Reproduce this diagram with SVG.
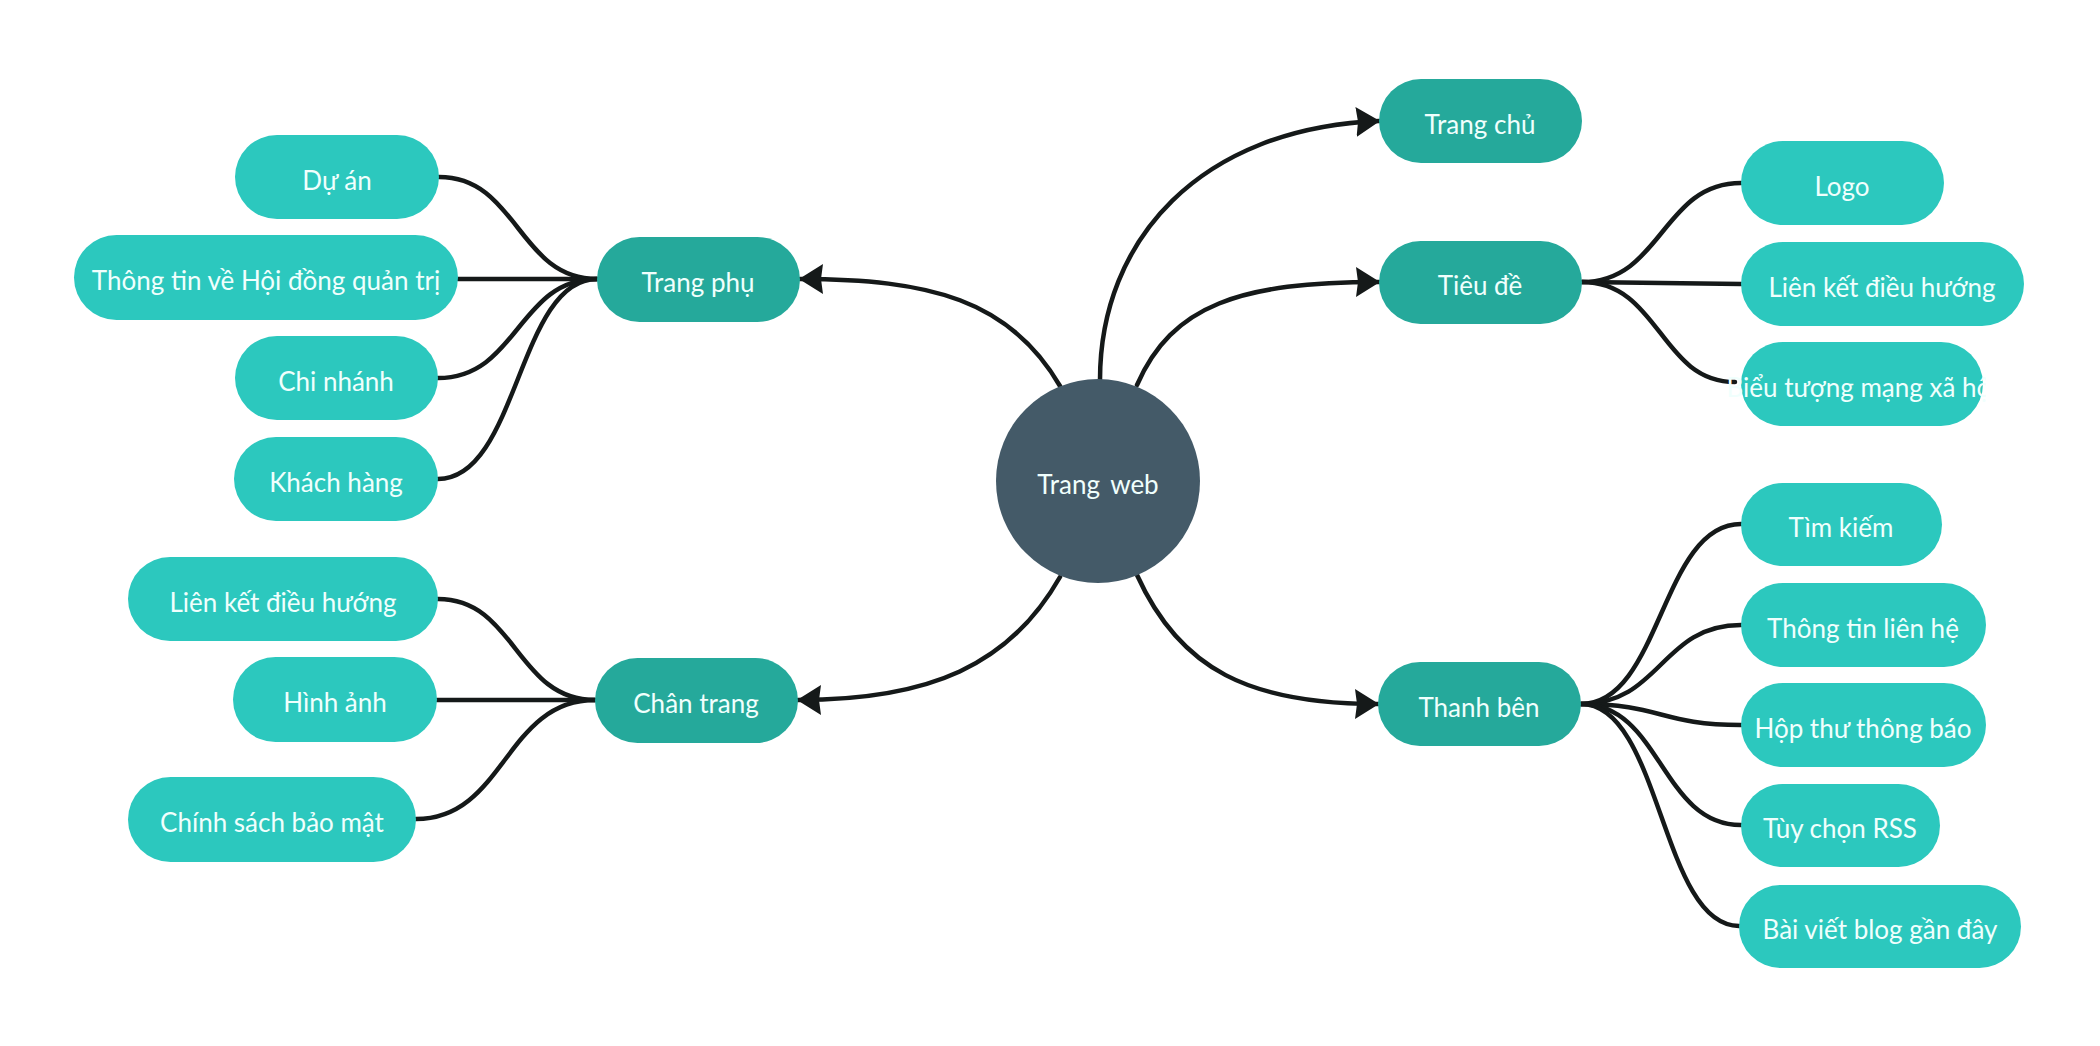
<svg xmlns="http://www.w3.org/2000/svg" width="2100" height="1046" viewBox="0 0 2100 1046">
<style>
.bg{fill:#ffffff}
.l1{fill:#25A99B}
.l2{fill:#2CC8BE}
.root{fill:#445A68}
.t{font-family:Lato,"Noto Sans",sans-serif;font-size:26px;fill:#F0FFFD;text-anchor:middle}
.c{fill:none;stroke:#151919;stroke-width:4.5;stroke-linecap:round}
</style>
<defs>
<marker id="arr" viewBox="0 0 24 30" refX="23" refY="15" markerWidth="24" markerHeight="30" markerUnits="userSpaceOnUse" orient="auto">
<path d="M0,0 L24,15 L0,30 L2,15 Z" fill="#151919"/>
</marker>
<clipPath id="clipBieu"><rect x="1720" y="342" width="266" height="84"/></clipPath>
</defs>
<rect class="bg" x="0" y="0" width="2100" height="1046"/>
<g id="connectors">
<path class="c" d="M1100,380 C1100,240 1200,128 1379,121" marker-end="url(#arr)"/>
<path class="c" d="M1137,385 C1172,305 1240,282 1379,282" marker-end="url(#arr)"/>
<path class="c" d="M1060,386 C1010,300 930,279 800,279" marker-end="url(#arr)"/>
<path class="c" d="M1060,577 C1010,665 930,700 798,700" marker-end="url(#arr)"/>
<path class="c" d="M1137,575 C1180,670 1250,704 1378,704" marker-end="url(#arr)"/>
<path class="c" d="M597,279 C518,279 518,177 439,177"/>
<path class="c" d="M597,279 L458,279"/>
<path class="c" d="M597,279 C518,279 518,378 438,378"/>
<path class="c" d="M597,279 C518,279 518,479 438,479"/>
<path class="c" d="M595,700 C516,700 516,599 438,599"/>
<path class="c" d="M595,700 L437,700"/>
<path class="c" d="M595,700 C505,700 505,819 416,819"/>
<path class="c" d="M1582,282 C1662,282 1662,183 1741,183"/>
<path class="c" d="M1582,282 L1741,284"/>
<path class="c" d="M1582,282 C1660,282 1660,382 1735,382"/>
<path class="c" d="M1581,704 C1661,704 1661,524 1741,524"/>
<path class="c" d="M1581,704 C1661,704 1661,625 1741,625"/>
<path class="c" d="M1581,704 C1661,704 1661,725 1741,725"/>
<path class="c" d="M1581,704 C1661,704 1661,825 1741,825"/>
<path class="c" d="M1581,704 C1661,704 1661,926 1739,926"/>
</g>
<g id="root">
<circle class="root" cx="1098" cy="481" r="102"/>
<text class="t" x="1098" y="494" word-spacing="4">Trang web</text>
</g>
<g id="trang-chu">
<rect class="l1" x="1379" y="79" width="203" height="84" rx="42"/>
<text class="t" x="1480" y="134">Trang chủ</text>
</g>
<g id="tieu-de">
<rect class="l1" x="1379" y="241" width="203" height="83" rx="41.5"/>
<text class="t" x="1480" y="295">Tiêu đề</text>
</g>
<g id="trang-phu">
<rect class="l1" x="597" y="237" width="203" height="85" rx="42.5"/>
<text class="t" x="698" y="292">Trang phụ</text>
</g>
<g id="chan-trang">
<rect class="l1" x="595" y="658" width="203" height="85" rx="42.5"/>
<text class="t" x="696" y="713">Chân trang</text>
</g>
<g id="thanh-ben">
<rect class="l1" x="1378" y="662" width="203" height="84" rx="42"/>
<text class="t" x="1479" y="717">Thanh bên</text>
</g>
<g id="du-an">
<rect class="l2" x="235" y="135" width="204" height="84" rx="42"/>
<text class="t" x="337" y="190">Dự án</text>
</g>
<g id="hoi-dong">
<rect class="l2" x="74" y="235" width="384" height="85" rx="42.5"/>
<text class="t" x="266" y="290">Thông tin về Hội đồng quản trị</text>
</g>
<g id="chi-nhanh">
<rect class="l2" x="235" y="336" width="203" height="84" rx="42"/>
<text class="t" x="336" y="391">Chi nhánh</text>
</g>
<g id="khach-hang">
<rect class="l2" x="234" y="437" width="204" height="84" rx="42"/>
<text class="t" x="336" y="492">Khách hàng</text>
</g>
<g id="lien-ket-trai">
<rect class="l2" x="128" y="557" width="310" height="84" rx="42"/>
<text class="t" x="283" y="612">Liên kết điều hướng</text>
</g>
<g id="hinh-anh">
<rect class="l2" x="233" y="657" width="204" height="85" rx="42.5"/>
<text class="t" x="335" y="712">Hình ảnh</text>
</g>
<g id="chinh-sach">
<rect class="l2" x="128" y="777" width="288" height="85" rx="42.5"/>
<text class="t" x="272" y="832">Chính sách bảo mật</text>
</g>
<g id="logo">
<rect class="l2" x="1741" y="141" width="203" height="84" rx="42"/>
<text class="t" x="1842" y="196">Logo</text>
</g>
<g id="lien-ket-phai">
<rect class="l2" x="1741" y="242" width="283" height="84" rx="42"/>
<text class="t" x="1882" y="297">Liên kết điều hướng</text>
</g>
<g id="bieu-tuong">
<rect class="l2" x="1741" y="342" width="242" height="84" rx="42"/>
<text class="t" x="1862" y="397" clip-path="url(#clipBieu)">Biểu tượng mạng xã hội</text>
</g>
<g id="tim-kiem">
<rect class="l2" x="1741" y="483" width="201" height="83" rx="41.5"/>
<text class="t" x="1841" y="537">Tìm kiếm</text>
</g>
<g id="thong-tin-lien-he">
<rect class="l2" x="1741" y="583" width="245" height="84" rx="42"/>
<text class="t" x="1863" y="638">Thông tin liên hệ</text>
</g>
<g id="hop-thu">
<rect class="l2" x="1741" y="683" width="245" height="84" rx="42"/>
<text class="t" x="1863" y="738">Hộp thư thông báo</text>
</g>
<g id="tuy-chon">
<rect class="l2" x="1741" y="784" width="199" height="83" rx="41.5"/>
<text class="t" x="1840" y="838">Tùy chọn RSS</text>
</g>
<g id="bai-viet">
<rect class="l2" x="1739" y="885" width="282" height="83" rx="41.5"/>
<text class="t" x="1880" y="939">Bài viết blog gần đây</text>
</g>
</svg>
